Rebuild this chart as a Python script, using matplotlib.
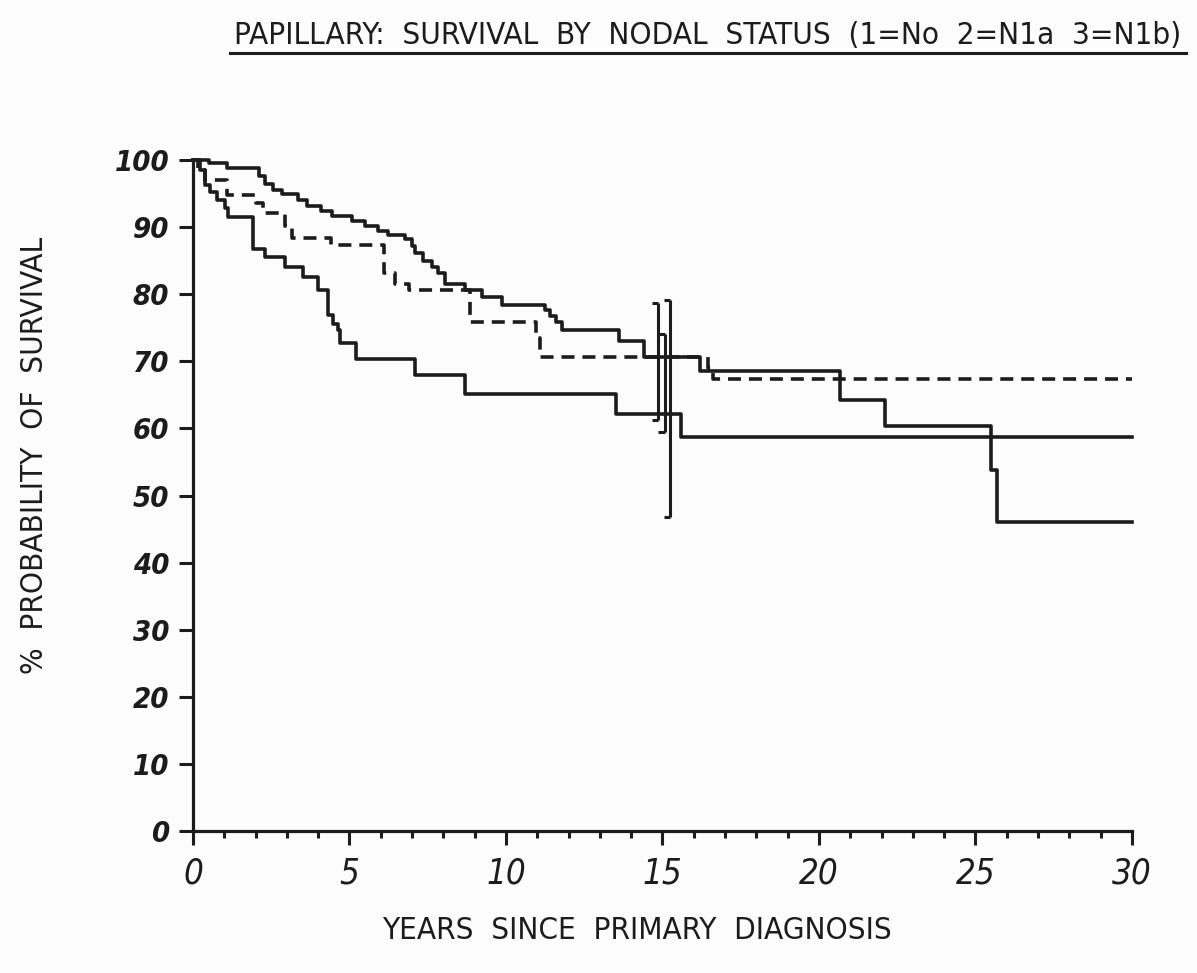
import matplotlib
matplotlib.use("Agg")
import matplotlib.pyplot as plt
from matplotlib.ticker import MultipleLocator
from matplotlib.lines import Line2D

# group 1 (upper solid)
t1 = [0, 0.5, 1.08, 2.1, 2.3, 2.56, 2.83, 3.36, 3.63, 4.1, 4.43, 5.07, 5.5,
      5.9, 6.23, 6.77, 6.99, 7.1, 7.36, 7.63, 7.84, 8.05, 8.69, 9.22, 9.86,
      11.25, 11.4, 11.6, 11.8, 13.6, 14.4, 16.2, 20.67, 22.1, 25.5, 25.7, 30]
s1 = [100, 99.5, 98.8, 97.6, 96.5, 95.5, 94.9, 94.0, 93.2, 92.4, 91.7, 90.9,
      90.2, 89.5, 88.8, 88.3, 87.2, 86.1, 84.9, 84.1, 83.1, 81.6, 80.6, 79.6,
      78.4, 77.6, 76.8, 75.8, 74.7, 73.0, 70.6, 68.5, 64.3, 60.4, 53.8, 46.1,
      46.1]

# group 2 (dashed)
t2 = [0, 0.15, 0.38, 1.1, 2.03, 2.24, 2.94, 3.15, 4.4, 6.1, 6.45, 6.9, 8.85,
      10.95, 11.1, 16.45, 16.6, 30]
s2 = [100, 98.5, 97.0, 94.8, 93.6, 92.1, 90.1, 88.4, 87.3, 83.2, 81.6, 80.6,
      75.9, 73.5, 70.7, 69.0, 67.4, 67.4]

# group 3 (lower solid)
t3 = [0, 0.22, 0.38, 0.54, 0.76, 1.02, 1.13, 1.93, 2.3, 2.94, 3.5, 4.0, 4.3,
      4.47, 4.63, 4.7, 5.2, 7.09, 8.69, 13.5, 15.6, 30]
s3 = [100, 98.5, 96.3, 95.3, 94.0, 92.8, 91.5, 86.8, 85.6, 84.1, 82.6, 80.6,
      76.9, 75.5, 74.7, 72.7, 70.4, 68.0, 65.2, 62.1, 58.8, 58.8]

# confidence bars at 15 years
ci_x = [14.85, 15.07, 15.25]
ci_lo = [61.3, 59.5, 46.8]
ci_hi = [78.7, 74.1, 79.2]

ink = "#1c1c1c"
fig = plt.figure(figsize=(11.97, 9.73), dpi=100, facecolor="#fcfcfc")
ax = fig.add_axes([0.1612, 0.1459, 0.7845, 0.6896])
ax.set_facecolor("#fcfcfc")

ax.step(t1, s1, where="post", color=ink, lw=2.6, clip_on=False)
ax.step(t2, s2, where="post", color=ink, lw=2.6, ls=(0, (3.6, 2.2)), clip_on=False)
ax.step(t3, s3, where="post", color=ink, lw=2.6, clip_on=False)

ax.vlines(ci_x, ci_lo, ci_hi, color=ink, lw=2.2)
ax.hlines(ci_hi, [x - 0.2 for x in ci_x], ci_x, color=ink, lw=2.2)
ax.hlines(ci_lo, [x - 0.2 for x in ci_x], ci_x, color=ink, lw=2.2)

ax.set_xlim(0, 30)
ax.set_ylim(0, 100)
for side in ["top", "right"]:
    ax.spines[side].set_visible(False)
for side in ["left", "bottom"]:
    ax.spines[side].set_linewidth(2.3)
    ax.spines[side].set_color(ink)

ax.set_xticks(range(0, 31, 5))
ax.xaxis.set_minor_locator(MultipleLocator(1))
ax.set_yticks(range(0, 101, 10))
ax.tick_params(axis="x", which="major", length=10, width=2.2, color=ink, pad=8)
ax.tick_params(axis="x", which="minor", length=5, width=2.2, color=ink)
ax.tick_params(axis="y", which="major", length=10, width=2.2, color=ink, pad=7)

ylab_font = dict(family="DejaVu Sans", style="italic", fontsize=21,
                 stretch="condensed", weight="semibold", color=ink)
xlab_font = dict(family="DejaVu Sans", style="italic", fontsize=25,
                 stretch="condensed", color=ink)
ax.set_xticklabels([str(v) for v in range(0, 31, 5)], **xlab_font)
ax.set_yticklabels([str(v) for v in range(0, 101, 10)], **ylab_font)

txt_font = dict(family="DejaVu Sans", stretch="condensed", color=ink)
fig.text(0.5915, 0.964, "PAPILLARY:  SURVIVAL  BY  NODAL  STATUS  (1=No  2=N1a  3=N1b)",
         ha="center", va="center", fontsize=22.5, **txt_font)
fig.add_artist(Line2D([0.192, 0.991], [0.9455, 0.9455], color=ink, lw=2.2,
                      transform=fig.transFigure))
fig.text(0.532, 0.044, "YEARS  SINCE  PRIMARY  DIAGNOSIS", ha="center",
         va="center", fontsize=22.5, **txt_font)
fig.text(0.029, 0.532, "%  PROBABILITY  OF  SURVIVAL", ha="center", va="center",
         rotation=90, fontsize=22.5, **txt_font)

fig.savefig("out.png", dpi=100, facecolor=fig.get_facecolor())
